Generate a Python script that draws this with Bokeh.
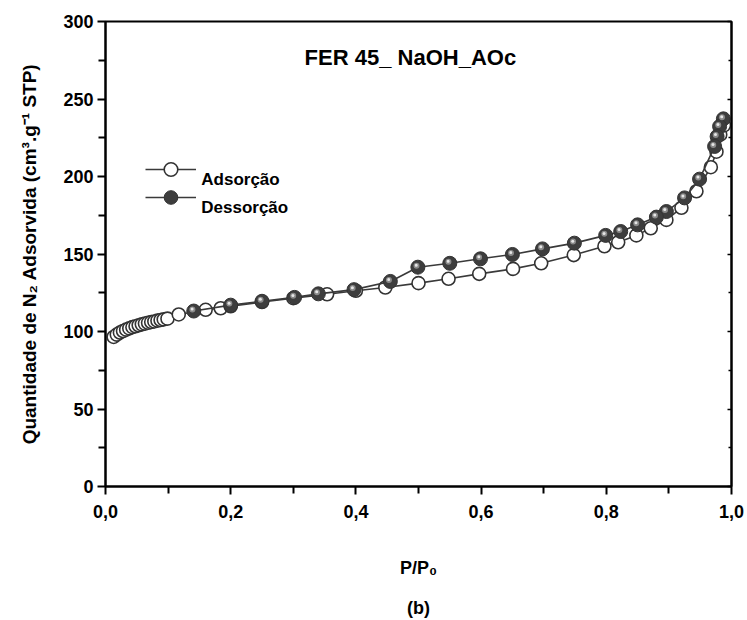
from bokeh.plotting import figure
from bokeh.models import (Range1d, LinearAxis, Legend, LegendItem, Label,
                          ColumnDataSource, FixedTicker, CustomJSTickFormatter)
from bokeh.transform import dodge
from bokeh.embed import file_html
from bokeh.resources import INLINE

# ---------------- data ----------------
ads_p = [0.013, 0.018, 0.023, 0.028, 0.033, 0.038, 0.043, 0.048, 0.053, 0.058,
         0.063, 0.068, 0.073, 0.078, 0.083, 0.088, 0.093, 0.099, 0.117, 0.160,
         0.184, 0.200, 0.250, 0.300, 0.354, 0.400, 0.447, 0.500, 0.548, 0.597,
         0.651, 0.696, 0.748, 0.797, 0.819, 0.848, 0.871, 0.896, 0.920, 0.944,
         0.967, 0.976, 0.982, 0.988]
ads_v = [96.5, 98.0, 99.3, 100.3, 101.2, 102.0, 102.8, 103.4, 104.0, 104.6,
         105.1, 105.6, 106.1, 106.5, 107.0, 107.4, 107.8, 108.3, 111.0, 114.0,
         115.0, 116.3, 119.0, 121.5, 124.0, 126.3, 128.4, 131.2, 134.0, 137.2,
         140.4, 144.0, 149.3, 155.0, 157.6, 162.0, 166.6, 172.0, 179.8, 190.5,
         206.0, 216.0, 227.0, 233.0]

des_p = [0.987, 0.981, 0.977, 0.973, 0.949, 0.925, 0.896, 0.880, 0.850, 0.823,
         0.799, 0.749, 0.698, 0.650, 0.599, 0.550, 0.499, 0.455, 0.397, 0.340,
         0.302, 0.250, 0.200, 0.141]
des_v = [237.2, 232.3, 225.8, 219.4, 198.3, 186.2, 177.4, 173.8, 168.8, 164.5,
         162.0, 157.0, 153.3, 149.7, 146.9, 144.0, 141.5, 132.3, 127.0, 124.3,
         122.0, 119.5, 117.0, 113.2]

x_major = [0.0, 0.2, 0.4, 0.6, 0.8, 1.0]
x_minor = [0.1, 0.3, 0.5, 0.7, 0.9]
y_major = [0, 50, 100, 150, 200, 250, 300]
y_minor = [25, 75, 125, 175, 225, 275]

title_text = "FER 45_ NaOH_AOc"
x_label = "P/P\u2080"
y_label = "Quantidade de N\u2082 Adsorvida (cm\u00b3.g\u207b\u00b9 STP)"
legend_labels = ["Adsorção", "Dessorção"]
panel_tag = "(b)"

FONT = "Liberation Sans"

# ---------------- figure ----------------
p = figure(width=747, height=620, output_backend="svg", toolbar_location=None,
           x_range=Range1d(0, 1), y_range=Range1d(0, 300),
           min_border_left=105, min_border_right=16, min_border_top=21,
           min_border_bottom=134)
p.background_fill_color = "white"
p.border_fill_color = "white"
p.xgrid.visible = False
p.ygrid.visible = False
p.outline_line_color = "black"
p.outline_line_width = 2

LINE_C = "#3a3a3a"

ads = ColumnDataSource(dict(x=ads_p, y=ads_v))
des = ColumnDataSource(dict(x=des_p, y=des_v))

l_ads = p.line("x", "y", source=ads, line_color=LINE_C, line_width=1.6)
s_ads = p.scatter("x", "y", source=ads, size=13, marker="circle",
                  fill_color="white", line_color="#333333", line_width=1.6)

l_des = p.line("x", "y", source=des, line_color=LINE_C, line_width=1.6)
s_des = p.scatter("x", "y", source=des, size=14, marker="circle",
                  fill_color="#3d3d3d", line_color="#333333", line_width=1)
h1 = p.scatter(dodge("x", -0.0022, range=p.x_range), dodge("y", 1.0, range=p.y_range),
               source=des, size=6, marker="circle", fill_color="#8a8a8a", line_color=None)
h2 = p.scatter(dodge("x", -0.0026, range=p.x_range), dodge("y", 1.3, range=p.y_range),
               source=des, size=3, marker="circle", fill_color="#e6e6e6", line_color=None)

# ---------------- axes ----------------
fmt = CustomJSTickFormatter(code="return tick.toFixed(1).replace('.', ',');")
p.xaxis.ticker = FixedTicker(ticks=x_major, minor_ticks=x_minor)
p.xaxis.formatter = fmt
p.yaxis.ticker = FixedTicker(ticks=y_major, minor_ticks=y_minor)

for ax in (p.xaxis[0], p.yaxis[0]):
    ax.axis_line_width = 2
    ax.axis_line_color = "black"
    ax.major_tick_line_width = 2
    ax.minor_tick_line_width = 2
    ax.major_tick_out = 8
    ax.major_tick_in = 0
    ax.minor_tick_out = 7
    ax.minor_tick_in = 0
    ax.major_label_text_font = FONT
    ax.major_label_text_font_style = "bold"
    ax.major_label_text_color = "black"
    ax.axis_label_text_font = FONT
    ax.axis_label_text_font_style = "bold"
    ax.axis_label_text_color = "black"

p.xaxis.major_label_text_font_size = "18px"
p.xaxis.major_label_standoff = 10
p.xaxis.axis_label = x_label
p.xaxis.axis_label_text_font_size = "18px"
p.xaxis.axis_label_standoff = 37

p.yaxis.major_label_text_font_size = "18px"
p.yaxis.major_label_standoff = 4
p.yaxis.axis_label = y_label
p.yaxis.axis_label_text_font_size = "19px"
p.yaxis.axis_label_standoff = 20

right = LinearAxis(ticker=FixedTicker(ticks=y_major, minor_ticks=y_minor),
                   formatter=CustomJSTickFormatter(code="return '';"),
                   major_tick_in=4, major_tick_out=0, minor_tick_in=3, minor_tick_out=0,
                   axis_line_width=2, major_tick_line_width=1.5, minor_tick_line_width=1.5,
                   major_label_standoff=0, major_label_text_font_size="1px")
p.add_layout(right, "right")

# panel tag "(b)": label of a tick-less, line-less axis stacked under the x axis
tag_axis = LinearAxis(ticker=FixedTicker(ticks=[], minor_ticks=[]),
                      axis_line_color=None, major_tick_out=0, major_tick_in=0,
                      minor_tick_out=0, minor_tick_in=0, major_label_standoff=0,
                      axis_label=panel_tag, axis_label_standoff=17,
                      axis_label_text_font=FONT, axis_label_text_font_style="bold",
                      axis_label_text_font_size="18px", axis_label_text_color="black")
p.add_layout(tag_axis, "below")

# ---------------- annotations ----------------
p.add_layout(Label(x=0.487, y=277, text=title_text, text_align="center",
                   text_baseline="middle", text_font=FONT,
                   text_font_style="bold", text_font_size="22px", text_color="black"))

# legend glyphs: one legend per entry so the rows sit at the original spacing;
# labels are drawn separately, slightly below the glyphs as in the original
leg_common = dict(border_line_color=None, background_fill_alpha=0, padding=0, margin=0,
                  glyph_width=51, glyph_height=34, label_standoff=0, label_width=5,
                  label_text_font_size="8px")
p.add_layout(Legend(items=[LegendItem(label=" ", renderers=[l_ads, s_ads])],
                    location=(40, 300), **leg_common))
p.add_layout(Legend(items=[LegendItem(label=" ", renderers=[l_des, s_des])],
                    location=(40, 272), **leg_common))

p.add_layout(Label(x=0.153, y=198, text=legend_labels[0], text_align="left",
                   text_baseline="middle", text_font=FONT, text_font_style="bold",
                   text_font_size="17px", text_color="black"))
p.add_layout(Label(x=0.153, y=180, text=legend_labels[1], text_align="left",
                   text_baseline="middle", text_font=FONT, text_font_style="bold",
                   text_font_size="17px", text_color="black"))

open("out.html", "w").write(file_html(p, INLINE))
